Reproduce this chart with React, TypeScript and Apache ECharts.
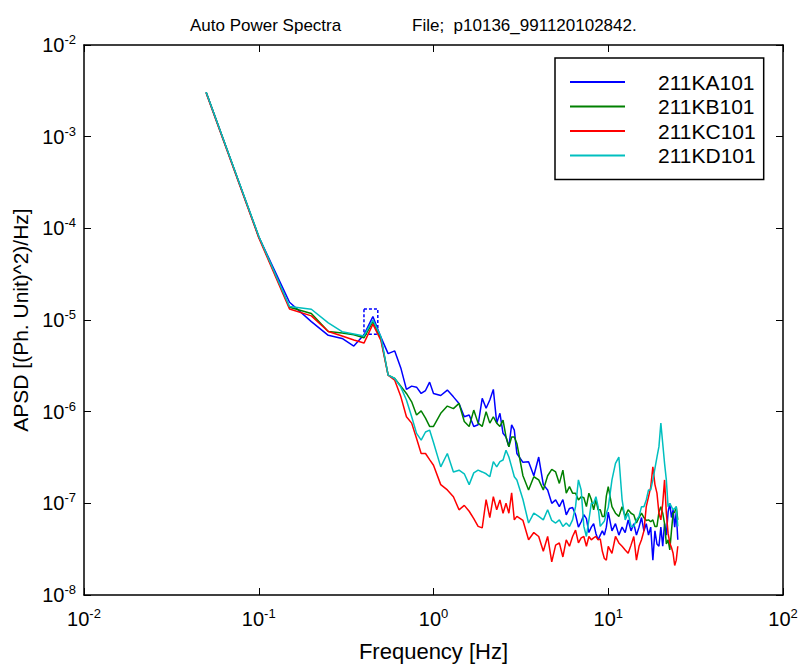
import React, { useEffect, useRef } from "react";
import * as echarts from "echarts";

const FREQ = [
  0.05, 0.1, 0.15, 0.2, 0.25, 0.3, 0.35, 0.4, 0.45, 0.5, 0.55, 0.6, 0.65, 0.7, 0.75, 0.8, 0.85, 0.9, 0.95, 1.0,
  1.1, 1.2, 1.3, 1.4, 1.5, 1.6, 1.7, 1.8, 1.9, 2.0, 2.1, 2.2, 2.3, 2.4, 2.5, 2.6, 2.7, 2.8, 2.9, 3.0,
  3.25, 3.5, 3.75, 4.0, 4.25, 4.5, 4.75, 5.0, 5.25, 5.5, 5.75, 6.0, 6.25, 6.5, 6.75, 7.0, 7.25, 7.5, 7.75, 8.0,
  8.25, 8.5, 8.75, 9.0, 9.25, 9.5, 9.75, 10.0,
  10.5, 11, 11.5, 12, 12.5, 13, 13.5, 14, 14.5, 15, 15.5, 16, 16.5, 17, 17.5, 18, 18.5, 19, 19.5, 20,
  20.5, 21, 21.5, 22, 22.5, 23, 23.5, 24, 24.5, 25,
];

const KA101 = [
  3.05e-3, 8.1e-5, 1.56e-5, 9.6e-6, 6.8e-6, 6.3e-6, 5.2e-6, 6.9e-6, 1.09e-5, 6.5e-6,
  4.3e-6, 4.6e-6, 3.0e-6, 1.75e-6, 1.9e-6, 1.85e-6, 1.58e-6, 1.7e-6, 2.1e-6, 1.58e-6,
  1.5e-6, 1.72e-6, 1.45e-6, 1.23e-6, 8.8e-7, 9.2e-7, 6.9e-7, 7.2e-7, 1.4e-6, 1.09e-6,
  1.34e-6, 1.75e-6, 7.5e-7, 9.6e-7, 5.8e-7, 5.3e-7, 4.15e-7, 7.2e-7, 6.3e-7, 3.5e-7,
  2.8e-7, 2.85e-7, 2.0e-7, 3.2e-7, 1.6e-7, 1.4e-7, 1.0e-7, 1.09e-7, 9.2e-8, 1.1e-7,
  7.5e-8, 8.8e-8, 9.0e-8, 7.5e-8, 5.5e-8, 6.3e-8, 7.5e-8, 6.8e-8, 4.8e-8, 5.5e-8,
  6.0e-8, 4.7e-8, 4.0e-8, 4.5e-8, 5.0e-8, 4.5e-8, 5.5e-8, 8.0e-8,
  5.0e-8, 6.0e-8, 4.5e-8, 5.5e-8, 4.8e-8, 6.6e-8, 5.0e-8, 6.0e-8, 4.5e-8, 5.5e-8,
  7.0e-8, 5.0e-8, 6.0e-8, 4.5e-8, 5.5e-8, 2.4e-8, 5.0e-8, 3.6e-8, 3.4e-8, 5.5e-8,
  3.4e-8, 6.0e-8, 4.5e-8, 8.0e-8, 1.0e-7, 7.0e-8, 8.5e-8, 5.5e-8, 8.0e-8, 4.0e-8,
];

const KB101 = [
  3.05e-3, 8.1e-5, 1.38e-5, 1.18e-5, 7.5e-6, 7.2e-6, 6.9e-6, 6.4e-6, 9.6e-6, 6.3e-6,
  2.5e-6, 2.3e-6, 1.9e-6, 1.58e-6, 1.28e-6, 9.2e-7, 1.02e-6, 8.5e-7, 6.9e-7, 6.9e-7,
  9.6e-7, 1.15e-6, 1.08e-6, 1.23e-6, 7.8e-7, 6.9e-7, 1.04e-6, 7.5e-7, 6.9e-7, 1.0e-6,
  7.5e-7, 8.8e-7, 7.5e-7, 6.9e-7, 8.1e-7, 5.3e-7, 4.15e-7, 5.3e-7, 5.3e-7, 4.5e-7,
  2.0e-7, 1.4e-7, 1.95e-7, 1.8e-7, 1.4e-7, 2.0e-7, 2.35e-7, 2.2e-7, 1.65e-7, 2.3e-7,
  1.29e-7, 1.52e-7, 1.29e-7, 1.29e-7, 1.09e-7, 1.18e-7, 1.15e-7, 9.2e-8, 1.29e-7, 1.1e-7,
  8.5e-8, 1.09e-7, 8.5e-8, 8.5e-8, 7.2e-8, 7.2e-8, 1.2e-7, 1.52e-7,
  9.2e-8, 7.8e-8, 7.2e-8, 9.2e-8, 7.2e-8, 8.5e-8, 7.8e-8, 7.5e-8, 6.1e-8, 7.0e-8,
  7.8e-8, 7.0e-8, 6.5e-8, 6.6e-8, 6.3e-8, 6.6e-8, 5.6e-8, 5.6e-8, 8.0e-8, 9.2e-8,
  7.8e-8, 6.0e-8, 3.6e-8, 4.0e-8, 3.1e-8, 5.0e-8, 7.8e-8, 8.0e-8, 9.2e-8, 6.6e-8,
];

const KC101 = [
  3.0e-3, 7.9e-5, 1.32e-5, 1.11e-5, 7.5e-6, 6.7e-6, 6.05e-6, 5.6e-6, 9.0e-6, 6.0e-6,
  2.5e-6, 2.2e-6, 1.46e-6, 8.8e-7, 7.5e-7, 5.1e-7, 3.5e-7, 3.5e-7, 3.0e-7, 2.6e-7,
  1.6e-7, 1.4e-7, 1.18e-7, 8.5e-8, 9.5e-8, 8.2e-8, 6.8e-8, 5.6e-8, 5.4e-8, 1.1e-7,
  7.0e-8, 1.18e-7, 8.5e-8, 1.09e-7, 7.8e-8, 1.0e-7, 7.8e-8, 1.3e-7, 6.6e-8, 7.2e-8,
  6.5e-8, 4.0e-8, 4.8e-8, 4.35e-8, 3.0e-8, 4.35e-8, 2.3e-8, 3.5e-8, 3.7e-8, 2.6e-8,
  4.0e-8, 3.4e-8, 4.35e-8, 5.1e-8, 3.7e-8, 4.2e-8, 4.35e-8, 3.4e-8, 4.35e-8, 4.0e-8,
  4.2e-8, 4.35e-8, 4.0e-8, 4.1e-8, 3.0e-8, 2.5e-8, 2.4e-8, 3.4e-8,
  2.85e-8, 4.35e-8, 3.7e-8, 3.4e-8, 3.1e-8, 2.85e-8, 3.5e-8, 4.35e-8, 2.4e-8, 3.4e-8,
  4.0e-8, 5.0e-8, 9.2e-8, 1.18e-7, 1.5e-7, 2.5e-7, 1.6e-7, 1.29e-7, 7.8e-8, 6.6e-8,
  1.0e-7, 1.8e-7, 7.8e-8, 4.7e-8, 3.7e-8, 3.3e-8, 2.85e-8, 2.1e-8, 2.4e-8, 3.4e-8,
];

const KD101 = [
  3.05e-3, 8.2e-5, 1.4e-5, 1.31e-5, 9.3e-6, 7.45e-6, 7.05e-6, 6.7e-6, 1.0e-5, 6.6e-6,
  2.5e-6, 2.3e-6, 1.85e-6, 1.34e-6, 8.8e-7, 5.8e-7, 4.9e-7, 6.0e-7, 6.3e-7, 4.6e-7,
  2.5e-7, 3.5e-7, 2.2e-7, 2.3e-7, 2.1e-7, 1.6e-7, 2.15e-7, 2.3e-7, 2.2e-7, 2.1e-7,
  1.95e-7, 2.85e-7, 2.5e-7, 2.85e-7, 2.97e-7, 3.8e-7, 3.2e-7, 2.5e-7, 1.95e-7, 1.8e-7,
  1.1e-7, 6.1e-8, 7.8e-8, 7.2e-8, 6.6e-8, 8.5e-8, 6.5e-8, 6.1e-8, 6.6e-8, 5.6e-8,
  6.1e-8, 5.6e-8, 6.6e-8, 9.2e-8, 1.8e-7, 1.4e-7, 5.6e-8, 4.35e-8, 6.6e-8, 1.0e-7,
  1.0e-7, 1.18e-7, 9.2e-8, 5.6e-8, 6.0e-8, 6.4e-8, 7.8e-8, 9.0e-8,
  1.8e-7, 2.73e-7, 3.2e-7, 1.1e-7, 6.6e-8, 7.8e-8, 5.6e-8, 5.6e-8, 6.6e-8, 7.2e-8,
  9.2e-8, 9.2e-8, 1.09e-7, 1.4e-7, 1.4e-7, 1.8e-7, 2.4e-7, 3.2e-7, 4.15e-7, 7.5e-7,
  4.5e-7, 2.73e-7, 1.8e-7, 9.2e-8, 1.0e-7, 9.2e-8, 8.5e-8, 8.8e-8, 9.2e-8, 5.6e-8,
];

const SERIES_NAMES = ["211KA101", "211KB101", "211KC101", "211KD101"];
const SERIES_VALUES = [KA101, KB101, KC101, KD101];
const COLORS = ["#0000ff", "#008000", "#ff0000", "#00bfbf"];

const X_TICK_EXP = [-2, -1, 0, 1, 2];
const Y_TICK_EXP = [-8, -7, -6, -5, -4, -3, -2];

// dashed marker box around the 0.45 Hz peak (data units)
const MARK_BOX = { f0: 0.4, f1: 0.48, v0: 7.0e-6, v1: 1.32e-5 };

const TITLE = "Auto Power Spectra               File;  p10136_991120102842.";
const X_NAME = "Frequency [Hz]";
const Y_NAME = "APSD [(Ph. Unit)^2)/Hz]";

const FONT = "'Liberation Sans', Arial, Helvetica, sans-serif";

const expLabel = (v: number) => {
  const e = Math.round(Math.log10(v));
  return `{b|10}{s|${e}}`;
};

const rich = {
  b: { fontSize: 20, color: "#000", fontFamily: FONT },
  s: { fontSize: 13, color: "#000", fontFamily: FONT, padding: [0, 0, 11, 0] },
};

export default function App() {
  const ref = useRef<HTMLDivElement>(null);

  useEffect(() => {
    if (!ref.current) return;
    const chart = echarts.init(ref.current, null, { renderer: "svg" });

    const axisCommon = {
      type: "log" as const,
      logBase: 10,
      axisLine: { show: true, lineStyle: { color: "#000", width: 1.5 } },
      axisTick: { show: true, inside: true, length: 7, lineStyle: { color: "#000", width: 1 } },
      minorTick: { show: false },
      splitLine: { show: false },
    };

    const option = {
      animation: false,
      backgroundColor: "#fff",
      textStyle: { fontFamily: FONT },
      title: {
        text: TITLE,
        left: 185,
        top: 12,
        textStyle: { fontSize: 17, fontWeight: "normal", color: "#000", fontFamily: FONT },
      },
      grid: { left: 84, right: 18, top: 45, bottom: 72, containLabel: false },
      legend: {
        data: SERIES_NAMES,
        orient: "vertical",
        left: 555,
        top: 58,
        padding: [12, 8, 12, 15],
        itemWidth: 55,
        itemHeight: 2,
        icon: "rect",
        itemGap: 0.5,
        borderColor: "#000",
        borderWidth: 1.5,
        backgroundColor: "#fff",
        selectedMode: false,
        textStyle: { fontSize: 21, color: "#000", fontFamily: FONT, padding: [0, 0, 0, 28], lineHeight: 24 },
      },
      xAxis: [
        {
          ...axisCommon,
          position: "bottom",
          min: Math.pow(10, X_TICK_EXP[0]),
          max: Math.pow(10, X_TICK_EXP[X_TICK_EXP.length - 1]),
          name: X_NAME,
          nameLocation: "middle",
          nameGap: 45,
          nameTextStyle: { fontSize: 22, color: "#000", fontFamily: FONT },
          axisLabel: { show: true, margin: 12, formatter: expLabel, rich },
        },
        {
          ...axisCommon,
          position: "top",
          min: Math.pow(10, X_TICK_EXP[0]),
          max: Math.pow(10, X_TICK_EXP[X_TICK_EXP.length - 1]),
          axisLabel: { show: false },
        },
      ],
      yAxis: [
        {
          ...axisCommon,
          position: "left",
          min: Math.pow(10, Y_TICK_EXP[0]),
          max: Math.pow(10, Y_TICK_EXP[Y_TICK_EXP.length - 1]),
          name: Y_NAME,
          nameLocation: "middle",
          nameRotate: 90,
          nameGap: 52,
          nameTextStyle: { fontSize: 21, color: "#000", fontFamily: FONT },
          axisLabel: { show: true, margin: 8, formatter: expLabel, rich },
        },
        {
          ...axisCommon,
          position: "right",
          min: Math.pow(10, Y_TICK_EXP[0]),
          max: Math.pow(10, Y_TICK_EXP[Y_TICK_EXP.length - 1]),
          axisLabel: { show: false },
        },
      ],
      series: SERIES_NAMES.map((name, k) => ({
        name,
        type: "line",
        xAxisIndex: 0,
        yAxisIndex: 0,
        showSymbol: false,
        symbol: "none",
        z: 2 + k,
        color: COLORS[k],
        lineStyle: { color: COLORS[k], width: 1.5 },
        data: FREQ.map((f, i) => [f, SERIES_VALUES[k][i]]),
        markArea:
          k === 0
            ? {
                silent: true,
                itemStyle: {
                  color: "rgba(0,0,0,0)",
                  borderColor: "#0000ff",
                  borderWidth: 1.5,
                  borderType: [3, 2],
                },
                data: [
                  [
                    { coord: [MARK_BOX.f0, MARK_BOX.v1] },
                    { coord: [MARK_BOX.f1, MARK_BOX.v0] },
                  ],
                ],
              }
            : undefined,
      })),
    };

    chart.setOption(option as any);
    return () => chart.dispose();
  }, []);

  return (
    <div
      ref={ref}
      style={{ position: "fixed", left: 0, top: 0, width: 801, height: 667, background: "#fff" }}
    />
  );
}
